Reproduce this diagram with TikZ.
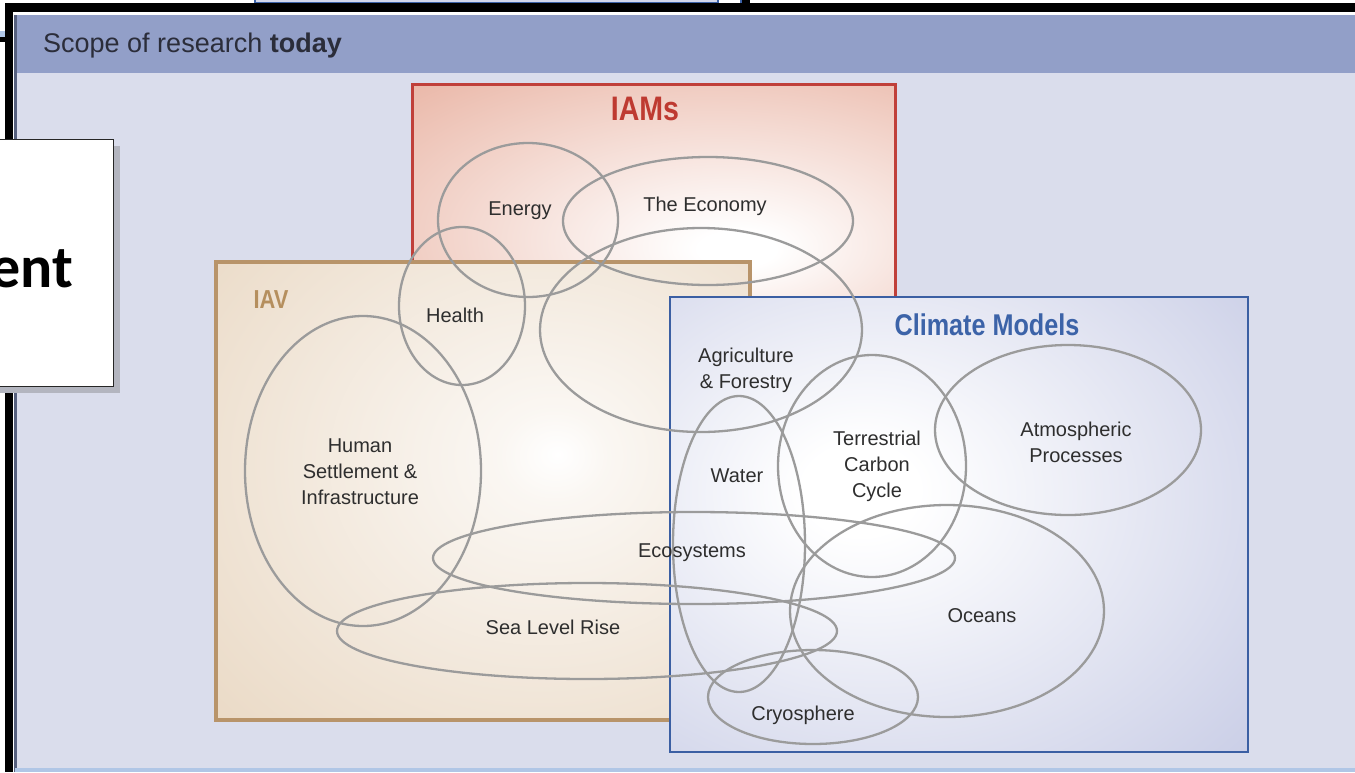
\documentclass[tikz,border=0pt]{standalone}
\usepackage{fontspec}
\setmainfont{Liberation Sans}
\newfontfamily\condfont[FakeStretch=0.84]{Liberation Sans}
\newfontfamily\calfont{Carlito}
\definecolor{hdr}{HTML}{929FC8}
\definecolor{hdrtxt}{HTML}{2B2D3A}
\definecolor{bodybg}{HTML}{DADDEC}
\definecolor{panelline}{HTML}{56607E}
\definecolor{botline}{HTML}{B0C6E6}
\definecolor{fragbg}{HTML}{D3D8EC}
\definecolor{fragblue}{HTML}{3D63A8}
\definecolor{iamred}{HTML}{C0403A}
\definecolor{iamtxt}{HTML}{BE3A31}
\definecolor{iamout}{HTML}{E9B4A4}
\definecolor{iavtan}{HTML}{B8946A}
\definecolor{iavtxt}{HTML}{B58F5E}
\definecolor{iavout}{HTML}{E8D6C0}
\definecolor{climblue}{HTML}{3B5FA3}
\definecolor{climtxt}{HTML}{3C63A8}
\definecolor{climout}{HTML}{C0C5E2}
\definecolor{vgray}{HTML}{9B9B9B}
\definecolor{txt}{HTML}{2E2E2E}
\definecolor{shadowgray}{HTML}{B3B5BF}
\pgfdeclareradialshading{iamshade}{\pgfpoint{9bp}{-12bp}}{color(0bp)=(white); color(4bp)=(white); color(46bp)=(iamout); color(100bp)=(iamout)}
\pgfdeclareradialshading{iavshade}{\pgfpoint{7bp}{4bp}}{color(0bp)=(white); color(5bp)=(white!80!iavout); color(45bp)=(iavout); color(100bp)=(iavout)}
\pgfdeclareradialshading{climshade}{\pgfpoint{-9bp}{4bp}}{color(0bp)=(white); color(5bp)=(white); color(48bp)=(climout); color(100bp)=(climout)}
\begin{document}
\begin{tikzpicture}[x=1pt,y=-1pt,
  lbl/.style={font=\fontsize{20}{26}\selectfont, text=txt, align=center, inner sep=0pt},
  venn/.style={draw=vgray, line width=2.3pt},
  ttl/.style={inner sep=0pt}]
\useasboundingbox (0,0) rectangle (1355,772);
\fill[white] (0,0) rectangle (1355,772);
% top fragments
\filldraw[fill=fragbg, draw=fragblue, line width=2pt] (255,-5) rectangle (718,3);
\draw[fragblue, line width=2pt] (741,-1) -- (741,3);
\fill[black] (742,0) rectangle (750,3);
\fill[botline] (0,31) rectangle (5,37);
\fill[black] (0,37) rectangle (5,42);
% panel
\fill[bodybg] (15,15) rectangle (1355,772);
\fill[hdr] (15,15) rectangle (1355,73);
\fill[black] (5,3) rectangle (1355,12);
\fill[black] (5,3) rectangle (13,772);
\draw[panelline, line width=3pt] (15.5,15) -- (15.5,772);
\fill[botline] (15,768) rectangle (1355,772);
\node[anchor=west, inner sep=0pt, font=\fontsize{27}{30}\selectfont, text=hdrtxt] (title) at (43,46) {Scope of research \textbf{today}};
% boxes
\shadedraw[shading=iamshade, draw=iamred, line width=3pt] (412,84) rectangle (895,310);
\shadedraw[shading=iavshade, draw=iavtan, line width=4pt] (216,262) rectangle (750,720);
\shadedraw[shading=climshade, draw=climblue, line width=2.5pt] (670,297) rectangle (1248,752);
\node[ttl, font=\condfont\bfseries\fontsize{34}{34}\selectfont, text=iamtxt] (iams) at (645,109) {IAMs};
\node[ttl, font=\condfont\bfseries\fontsize{26}{26}\selectfont, text=iavtxt] (iav) at (271,300) {IAV};
\node[ttl, font=\condfont\bfseries\fontsize{30}{30}\selectfont, text=climtxt] (clim) at (987,325) {Climate Models};
% ellipses
\draw[venn] (528,220) ellipse [x radius=90pt, y radius=77pt];
\draw[venn] (708,221) ellipse [x radius=145pt, y radius=64pt];
\draw[venn] (701,330) ellipse [x radius=161pt, y radius=102pt];
\draw[venn] (462,306) ellipse [x radius=63pt, y radius=79pt];
\draw[venn] (363,471) ellipse [x radius=118pt, y radius=155pt];
\draw[venn] (739,544) ellipse [x radius=66pt, y radius=148pt];
\draw[venn] (872,466) ellipse [x radius=94pt, y radius=111pt];
\draw[venn] (1068,430) ellipse [x radius=133pt, y radius=85pt];
\draw[venn] (694,558) ellipse [x radius=261pt, y radius=46pt];
\draw[venn] (587,631) ellipse [x radius=250pt, y radius=48pt];
\draw[venn] (947,611) ellipse [x radius=157pt, y radius=106pt];
\draw[venn] (813,697) ellipse [x radius=105pt, y radius=47pt];
% labels
\node[lbl] (energy) at (520,211) {Energy};
\node[lbl] (econ) at (705,206) {The Economy};
\node[lbl] (health) at (455,315) {Health};
\node[lbl] (agri) at (746,370) {Agriculture\\\& Forestry};
\node[lbl] (human) at (360,472) {Human\\Settlement \&\\Infrastructure};
\node[lbl] (water) at (737,476) {Water};
\node[lbl] (terr) at (877,466) {Terrestrial\\Carbon\\Cycle};
\node[lbl] (atmo) at (1076,442) {Atmospheric\\Processes};
\node[lbl] (eco) at (692,553) {Ecosystems};
\node[lbl] (sea) at (553,627) {Sea Level Rise};
\node[lbl] (oceans) at (982,616) {Oceans};
\node[lbl] (cryo) at (803,715) {Cryosphere};
% overlay box
\fill[shadowgray] (-5,146) rectangle (120,393);
\filldraw[fill=white, draw=black!85, line width=1pt] (-5,139) rectangle (113,386);
\node[anchor=base east, inner sep=0pt, font=\calfont\bfseries\fontsize{60}{60}\selectfont] (ent) at (73,287) {ent};
\end{tikzpicture}
\end{document}
